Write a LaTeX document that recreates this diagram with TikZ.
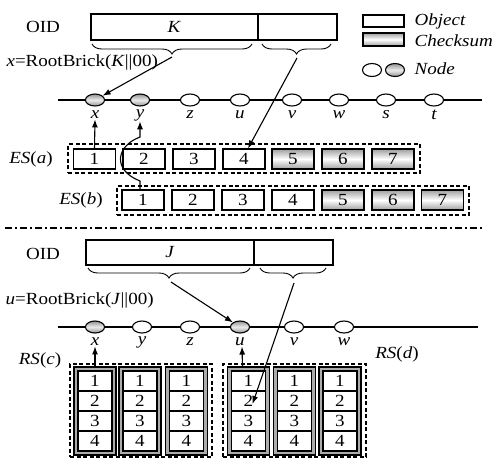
\documentclass[tikz,border=0pt]{standalone}
\usepackage{fontspec}
\setmainfont[FakeStretch=1.12]{Liberation Serif}
\usetikzlibrary{shapes.geometric,decorations.pathreplacing,arrows.meta}
\begin{document}
\begin{tikzpicture}[x=1pt,y=-1pt, font=\fontsize{17}{19}\selectfont, line width=1.1pt,
 nd/.style={ellipse,draw,fill=white,minimum width=19pt,minimum height=12pt,inner sep=0pt},
 ndg/.style={nd,top color=gray!85,bottom color=gray!85,middle color=gray!15},
 obj/.style={draw,fill=white,minimum width=42pt,minimum height=20pt,inner sep=0pt},
 cks/.style={obj,top color=gray!75,bottom color=gray!75,middle color=white},
 dbox/.style={draw,dash pattern=on 4pt off 2.5pt,minimum width=#1,inner sep=0pt},
 oid/.style={draw,minimum height=26pt,inner sep=0pt},
 frm/.style={draw,fill=gray!65,minimum width=42pt,minimum height=88pt,inner sep=0pt},
 cell/.style={draw,fill=white,minimum width=34pt,minimum height=20pt,inner sep=0pt},
 arr/.style={-{Latex[length=8pt,width=6pt]}},
 br/.style={decorate,decoration={brace,mirror,amplitude=10pt},line width=0.9pt},
 lab/.style={inner sep=0pt,font=\fontsize{17}{19}\selectfont\itshape},
 txt/.style={inner sep=0pt}]
\useasboundingbox (0,0) rectangle (494,459);

% ---------- legend ----------
\node[draw,fill=white,minimum width=41pt,minimum height=12pt,inner sep=0pt] (legobj) at (383.5,21) {};
\node[lab,anchor=west] (legobjt) at (414,21) {Object};
\node[cks,minimum width=41pt,minimum height=13pt] (legck) at (383.5,39.5) {};
\node[lab,anchor=west] (legckt) at (414,40.5) {Checksum};
\node[nd,minimum height=13pt] (legn1) at (372,70) {};
\node[ndg,minimum height=13pt] (legn2) at (395,70) {};
\node[lab,anchor=west] (legnt) at (414,69) {Node};

% ---------- top section ----------
\node[txt] (oid1) at (43,27) {OID};
\node[oid,minimum width=167pt] (kbox) at (174.5,27) {\textit{K}};
\node[oid,minimum width=79pt] (kbox2) at (297.5,27) {};
\draw[br] (92,44) -- (252,44);
\draw[br] (262,44) -- (331,44);
\coordinate (kt1) at (172,57);
\coordinate (kt2) at (297,58);
\node[txt,anchor=west] (rb1) at (6,62) {\textit{x}=RootBrick(\textit{K}\textbar\textbar00)};

\coordinate (l1a) at (58,100);
\coordinate (l1b) at (482,100);
\draw (l1a) -- (l1b);
\node[ndg] (nx) at (95,100) {};
\node[ndg] (ny) at (140,100) {};
\node[nd] (nz) at (190,100) {};
\node[nd] (nu) at (240,100) {};
\node[nd] (nv) at (292,100) {};
\node[nd] (nw) at (339,100) {};
\node[nd] (ns) at (386,100) {};
\node[nd] (nt) at (434,100) {};
\foreach \n/\x in {x/95,y/140,z/190,u/240,v/292,w/339,s/386,t/434}
  \node[lab] (l\n) at (\x,115) {\n};

\draw[arr] (kt1) -- (nx);

% ES(a)
\node[dbox=352pt,minimum height=29pt] (esa) at (244,158.5) {};
\node[txt] (esal) at (31,159) {\textit{ES}(\textit{a})};
\foreach \i/\x in {1/94.5,2/144,3/194,4/244} \node[obj] (a\i) at (\x,159) {\i};
\foreach \i/\x in {5/293,6/343,7/393} \node[cks] (a\i) at (\x,159) {\i};

% ES(b)
\node[dbox=352pt,minimum height=29pt] (esb) at (293,200.5) {};
\node[txt] (esbl) at (81,200) {\textit{ES}(\textit{b})};
\foreach \i/\x in {1/143,2/193,3/243,4/293} \node[obj] (b\i) at (\x,200) {\i};
\foreach \i/\x in {5/343,6/393,7/442.5} \node[cks] (b\i) at (\x,200) {\i};

\draw[arr] (a1.north) -- (lx.south);
\draw[arr] ([xshift=-3pt]b1.north) -- (140,181) .. controls (112,170) and (116,146) .. (140,137) -- (ly.south);
\draw[arr] (kt2) -- ([xshift=4pt]a4.north);

% separator
\coordinate (s1) at (5,228);
\coordinate (s2) at (484,228);
\draw[dash pattern=on 7pt off 3pt on 2pt off 3pt] (s1) -- (s2);

% ---------- bottom section ----------
\node[txt] (oid2) at (43,254) {OID};
\node[oid,minimum width=168pt,minimum height=25pt] (jbox) at (170,252.5) {\textit{J}};
\node[oid,minimum width=79pt,minimum height=25pt] (jbox2) at (293.5,252.5) {};
\draw[br] (88,268) -- (250,268);
\draw[br] (260,268) -- (326,268);
\coordinate (jt1) at (171,282);
\coordinate (jt2) at (294,283);
\node[txt,anchor=west] (rb2) at (5,300) {\textit{u}=RootBrick(\textit{J}\textbar\textbar00)};

\coordinate (l2a) at (58,327);
\coordinate (l2b) at (478,327);
\draw (l2a) -- (l2b);
\node[ndg] (mx) at (95,327) {};
\node[nd] (my) at (142,327) {};
\node[nd] (mz) at (190,327) {};
\node[ndg] (mu) at (240,327) {};
\node[nd] (mv) at (294,327) {};
\node[nd] (mw) at (344,327) {};
\foreach \n/\x in {x/95,y/142,z/190,u/240,v/294,w/344}
  \node[lab] (m\n l) at (\x,342) {\n};

\draw[arr] (jt1) -- (mu);

% RS(c)
\node[dbox=142pt,minimum height=93pt] (rsc) at (141,410.5) {};
\node[txt] (rscl) at (40,360) {\textit{RS}(\textit{c})};
\foreach \c/\x in {1/95,2/140,3/186.5} {
  \node[frm] (c\c) at (\x,411) {};
  \foreach \r in {1,...,4}
    \node[cell] (c\c r\r) at (\x,361+20*\r) {\r};
}
% RS(d)
\node[dbox=143pt,minimum height=93pt] (rsd) at (294.5,410.5) {};
\node[txt] (rsdl) at (397,354) {\textit{RS}(\textit{d})};
\foreach \c/\x in {1/248.5,2/294.5,3/340} {
  \node[frm] (d\c) at (\x,411) {};
  \foreach \r in {1,...,4}
    \node[cell] (d\c r\r) at (\x,361+20*\r) {\r};
}

\draw[arr] (c1.north -| mxl.south) -- (mxl.south);
\draw[arr] ([xshift=-6pt]d1.north) -- ([xshift=2pt]mul.south);
\draw[arr] (jt2) -- ([xshift=4pt,yshift=-3pt]d1r2.center);
\end{tikzpicture}
\end{document}
